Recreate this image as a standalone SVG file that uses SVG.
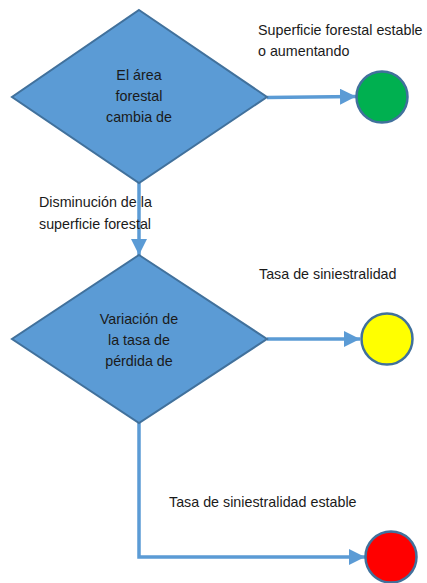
<svg xmlns="http://www.w3.org/2000/svg" width="427" height="583" viewBox="0 0 427 583">
<style>
.dia{fill:#5B9BD5;stroke:#41719C;stroke-width:2}
.circ{stroke:#41719C;stroke-width:2.5}
.con{fill:none;stroke:#5B9BD5;stroke-width:3.5}
text{font-family:"Liberation Sans",Arial,sans-serif;font-size:14.3px;fill:#1a1a1a}
.c{text-anchor:middle}
</style>
<defs>
<marker id="ah" markerUnits="userSpaceOnUse" markerWidth="16" markerHeight="16" viewBox="0 0 16 16" refX="16" refY="8" orient="auto">
<path d="M0,0 L16,8 L0,16 Z" fill="#5B9BD5"/>
</marker>
</defs>
<rect width="427" height="583" fill="#ffffff"/>
<g id="connectors">
<path class="con" d="M267,97.5 L356,96.5" marker-end="url(#ah)"/>
<path class="con" d="M139,183 L139,255" marker-end="url(#ah)"/>
<path class="con" d="M267,339 L360,339" marker-end="url(#ah)"/>
<path class="con" d="M139,423 L139,557 L365,557" marker-end="url(#ah)"/>
</g>
<g id="decision1">
<polygon class="dia" points="139,10 267,97 139,183 12,97"/>
<text class="c" x="139" y="80">El área</text>
<text class="c" x="139" y="101">forestal</text>
<text class="c" x="139" y="122">cambia de</text>
</g>
<g id="green">
<circle class="circ" cx="382" cy="97" r="25.5" fill="#00B050"/>
</g>
<g id="decision2">
<polygon class="dia" points="139,255 267,339 139,423 12,339"/>
<text class="c" x="139" y="324">Variación de</text>
<text class="c" x="139" y="345">la tasa de</text>
<text class="c" x="139" y="366">pérdida de</text>
</g>
<g id="yellow">
<circle class="circ" cx="387" cy="339" r="25.5" fill="#FFFF00"/>
</g>
<g id="red">
<circle class="circ" cx="391" cy="557" r="25.5" fill="#FF0000"/>
</g>
<g id="labels">
<text x="258" y="35">Superficie forestal estable</text>
<text x="258" y="56">o aumentando</text>
<text x="39" y="207">Disminución de la</text>
<text x="39" y="229">superficie forestal</text>
<text x="259" y="279">Tasa de siniestralidad</text>
<text x="169" y="507">Tasa de siniestralidad estable</text>
</g>
</svg>
